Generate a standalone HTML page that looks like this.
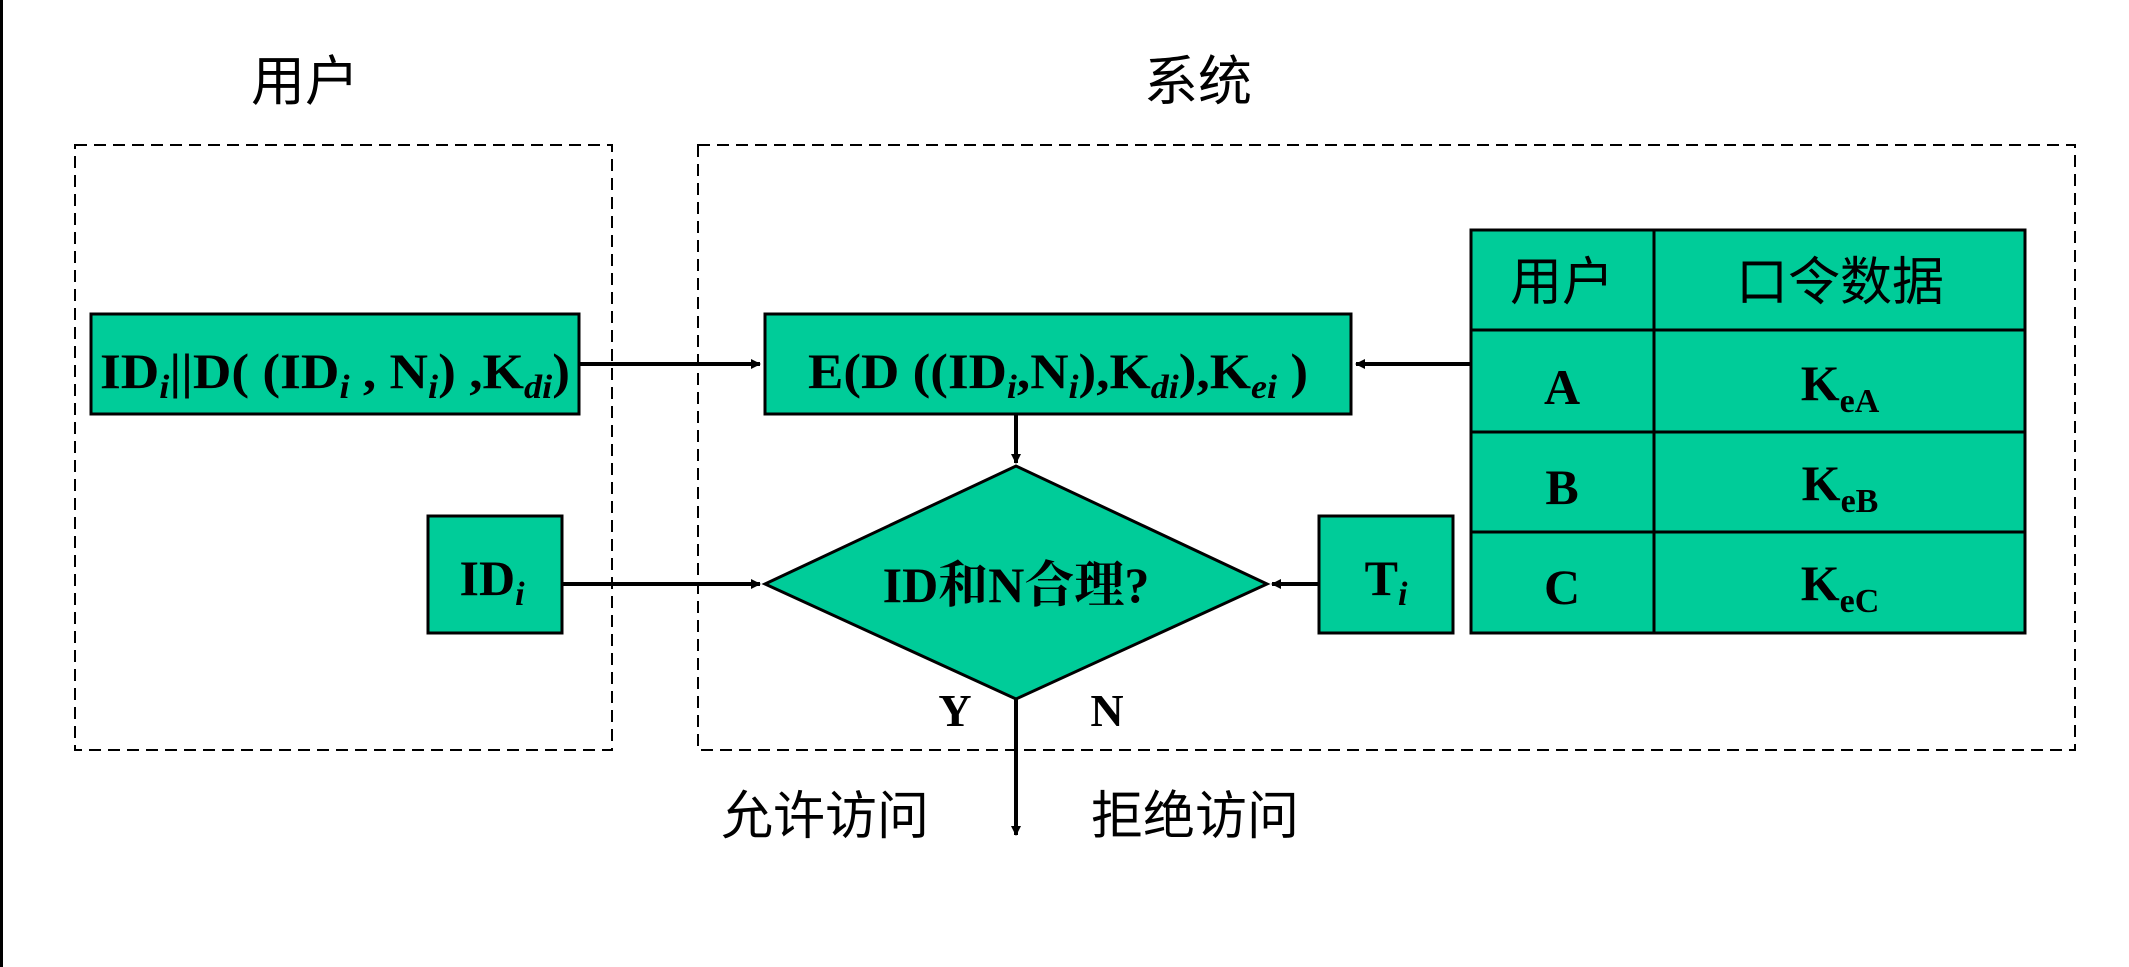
<!DOCTYPE html>
<html><head><meta charset="utf-8"><style>
html,body{margin:0;padding:0;background:#fff;}
svg{display:block;}
.t{font-family:"Liberation Serif","Noto Serif CJK SC",serif;font-weight:bold;fill:#000;}
.c{font-family:"Liberation Serif","Noto Sans CJK SC",sans-serif;fill:#000;}
</style></head><body>
<svg width="2129" height="967" viewBox="0 0 2129 967" xmlns="http://www.w3.org/2000/svg">
<defs>
<marker id="ar" markerWidth="10" markerHeight="10" refX="9" refY="5" orient="auto" markerUnits="userSpaceOnUse"><path d="M0,0 L0,0 L10,5 L0,10 Z" fill="#000"/></marker>
</defs>
<rect x="0" y="0" width="3" height="967" fill="#000"/>
<text class="c" x="305" y="100" font-size="54" text-anchor="middle">用户</text>
<text class="c" x="1198" y="100" font-size="54" text-anchor="middle">系统</text>
<rect x="75" y="145" width="537" height="605" fill="none" stroke="#000" stroke-width="2" stroke-dasharray="12,7"/>
<rect x="698" y="145" width="1377" height="605" fill="none" stroke="#000" stroke-width="2" stroke-dasharray="12,7"/>

<rect x="91" y="314" width="488" height="100" fill="#00CC99" stroke="#000" stroke-width="3"/>
<text class="t" x="100" y="388" font-size="50" textLength="470" lengthAdjust="spacingAndGlyphs">ID<tspan font-style="italic" font-size="34" dy="10">i</tspan><tspan dy="-10">||D( (ID</tspan><tspan font-style="italic" font-size="34" dy="10">i</tspan><tspan dy="-10"> , N</tspan><tspan font-style="italic" font-size="34" dy="10">i</tspan><tspan dy="-10">) ,K</tspan><tspan font-style="italic" font-size="34" dy="10">di</tspan><tspan dy="-10">)</tspan></text>

<rect x="765" y="314" width="586" height="100" fill="#00CC99" stroke="#000" stroke-width="3"/>
<text class="t" x="808" y="388" font-size="50" textLength="500" lengthAdjust="spacingAndGlyphs">E(D ((ID<tspan font-style="italic" font-size="34" dy="10">i</tspan><tspan dy="-10">,N</tspan><tspan font-style="italic" font-size="34" dy="10">i</tspan><tspan dy="-10">),K</tspan><tspan font-style="italic" font-size="34" dy="10">di</tspan><tspan dy="-10">),K</tspan><tspan font-style="italic" font-size="34" dy="10">ei</tspan><tspan dy="-10"> )</tspan></text>

<rect x="1471" y="230" width="554" height="403" fill="#00CC99" stroke="#000" stroke-width="3"/>
<line x1="1654" y1="230" x2="1654" y2="633" stroke="#000" stroke-width="3"/>
<line x1="1471" y1="330" x2="2025" y2="330" stroke="#000" stroke-width="3"/>
<line x1="1471" y1="432" x2="2025" y2="432" stroke="#000" stroke-width="3"/>
<line x1="1471" y1="532" x2="2025" y2="532" stroke="#000" stroke-width="3"/>
<text class="c" x="1562" y="300" font-size="52" text-anchor="middle">用户</text>
<text class="c" x="1840" y="300" font-size="52" text-anchor="middle">口令数据</text>
<text class="t" x="1562" y="404" font-size="50" text-anchor="middle">A</text>
<text class="t" x="1562" y="504" font-size="50" text-anchor="middle">B</text>
<text class="t" x="1562" y="604" font-size="50" text-anchor="middle">C</text>
<text class="t" x="1840" y="400" font-size="50" text-anchor="middle">K<tspan font-size="34" dy="12">eA</tspan></text>
<text class="t" x="1840" y="500" font-size="50" text-anchor="middle">K<tspan font-size="34" dy="12">eB</tspan></text>
<text class="t" x="1840" y="600" font-size="50" text-anchor="middle">K<tspan font-size="34" dy="12">eC</tspan></text>

<polygon points="765,584 1016,466 1267,584 1016,699" fill="#00CC99" stroke="#000" stroke-width="3"/>
<text class="t" x="1016" y="602" font-size="50" text-anchor="middle">ID和N合理?</text>

<rect x="428" y="516" width="134" height="117" fill="#00CC99" stroke="#000" stroke-width="3"/>
<text class="t" x="492" y="595" font-size="50" text-anchor="middle">ID<tspan font-style="italic" font-size="34" dy="10">i</tspan></text>
<rect x="1319" y="516" width="134" height="117" fill="#00CC99" stroke="#000" stroke-width="3"/>
<text class="t" x="1386" y="595" font-size="50" text-anchor="middle">T<tspan font-style="italic" font-size="34" dy="10">i</tspan></text>

<g stroke="#000" stroke-width="4" fill="none">
<line x1="579" y1="364" x2="760" y2="364" marker-end="url(#ar)"/>
<line x1="1471" y1="364" x2="1356" y2="364" marker-end="url(#ar)"/>
<line x1="562" y1="584" x2="760" y2="584" marker-end="url(#ar)"/>
<line x1="1319" y1="584" x2="1272" y2="584" marker-end="url(#ar)"/>
<line x1="1016" y1="414" x2="1016" y2="463" marker-end="url(#ar)"/>
<line x1="1016" y1="699" x2="1016" y2="835" marker-end="url(#ar)"/>
</g>
<text class="t" x="955" y="726" font-size="46" text-anchor="middle">Y</text>
<text class="t" x="1107" y="726" font-size="46" text-anchor="middle">N</text>
<text class="c" x="825" y="834" font-size="52" text-anchor="middle">允许访问</text>
<text class="c" x="1195" y="834" font-size="52" text-anchor="middle">拒绝访问</text>
</svg>
</body></html>
